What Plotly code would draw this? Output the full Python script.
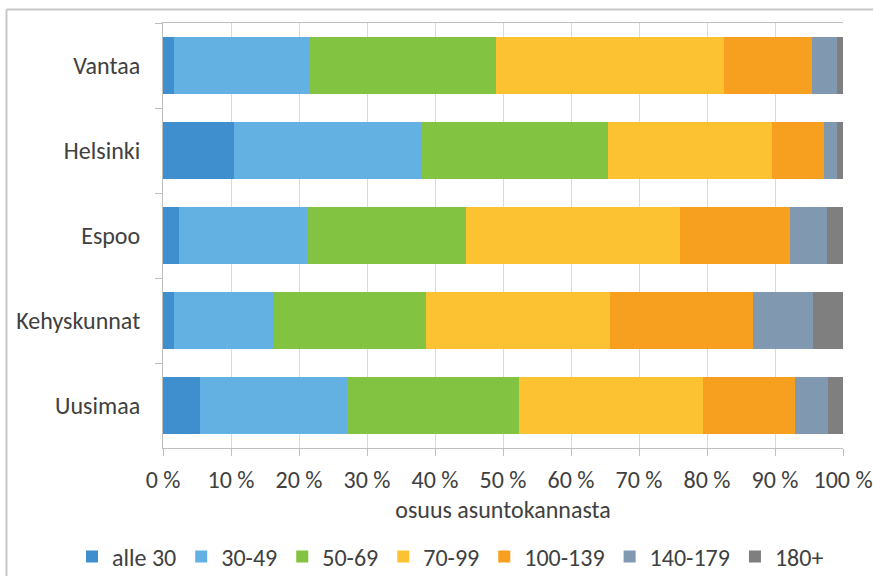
import plotly.graph_objects as go

categories = ["Vantaa", "Helsinki", "Espoo", "Kehyskunnat", "Uusimaa"]
series_names = ["alle 30", "30-49", "50-69", "70-99", "100-139", "140-179", "180+"]
alle_30 = [1.6, 10.5, 2.3, 1.6, 5.5]
s30_49 = [19.8, 27.5, 19.0, 14.7, 21.5]
s50_69 = [27.5, 27.4, 23.3, 22.4, 25.3]
s70_99 = [33.6, 24.1, 31.5, 27.0, 27.1]
s100_139 = [13.0, 7.7, 16.1, 21.0, 13.6]
s140_179 = [3.6, 1.9, 5.4, 8.9, 4.8]
s180 = [0.9, 0.9, 2.4, 4.4, 2.2]
tick_values = [0, 10, 20, 30, 40, 50, 60, 70, 80, 90, 100]
tick_labels = ["0 %", "10 %", "20 %", "30 %", "40 %", "50 %", "60 %", "70 %", "80 %", "90 %", "100 %"]
x_title = "osuus asuntokannasta"

colors = ["#3F8FCF", "#63B1E3", "#82C341", "#FCC231", "#F79F1E", "#8198B1", "#7F7F7F"]
values = [alle_30, s30_49, s50_69, s70_99, s100_139, s140_179, s180]

FONT = "Carlito, Calibri, 'Open Sans', sans-serif"
FS = 24
TXT = "#404040"

fig = go.Figure()
for name, vals, col in zip(series_names, values, colors):
    fig.add_trace(go.Bar(
        y=categories, x=vals, name=name, orientation="h",
        marker=dict(color=col, line=dict(width=0)),
    ))

W, H = 873, 576
L, R, T, B = 163, 30, 23, 128
pw, ph = W - L - R, H - T - B

def px_x(p):
    return (p - L) / pw

def px_y(p):
    return (H - B - p) / ph

fig.update_layout(
    width=W, height=H,
    margin=dict(l=L, r=R, t=T, b=B, autoexpand=False),
    barmode="stack", bargap=0.34,
    paper_bgcolor="white", plot_bgcolor="white",
    font=dict(family=FONT, size=FS, color=TXT),
    legend=dict(orientation="h", x=px_x(72), xanchor="left",
                y=px_y(557), yanchor="middle",
                font=dict(family=FONT, size=FS, color=TXT),
                traceorder="normal", itemwidth=30),
    xaxis=dict(range=[0, 100], tickvals=tick_values, ticktext=tick_labels,
               showgrid=True, gridcolor="#D9D9D9", gridwidth=1,
               showline=True, linecolor="#BFBFBF", linewidth=1, mirror=True,
               ticks="outside", ticklen=7, tickcolor="#BFBFBF",
               zeroline=False, fixedrange=True, automargin=False,
               ticklabelstandoff=3,
               title=dict(text=x_title, font=dict(family=FONT, size=FS, color=TXT), standoff=8)),
    yaxis=dict(categoryorder="array", categoryarray=categories, autorange="reversed",
               showline=True, linecolor="#BFBFBF", linewidth=1,
               ticks="outside", ticklen=7, tickcolor="#BFBFBF", tickson="boundaries",
               showgrid=False, ticklabelstandoff=17, automargin=False),
    shapes=[
        dict(type="line", xref="paper", yref="paper",
             x0=px_x(6.5), x1=px_x(873), y0=px_y(9.5), y1=px_y(9.5),
             line=dict(color="#C8C8C8", width=2)),
        dict(type="line", xref="paper", yref="paper",
             x0=px_x(6.5), x1=px_x(6.5), y0=px_y(9.5), y1=px_y(576),
             line=dict(color="#C8C8C8", width=2)),
    ],
)

fig.write_html("out.html")
